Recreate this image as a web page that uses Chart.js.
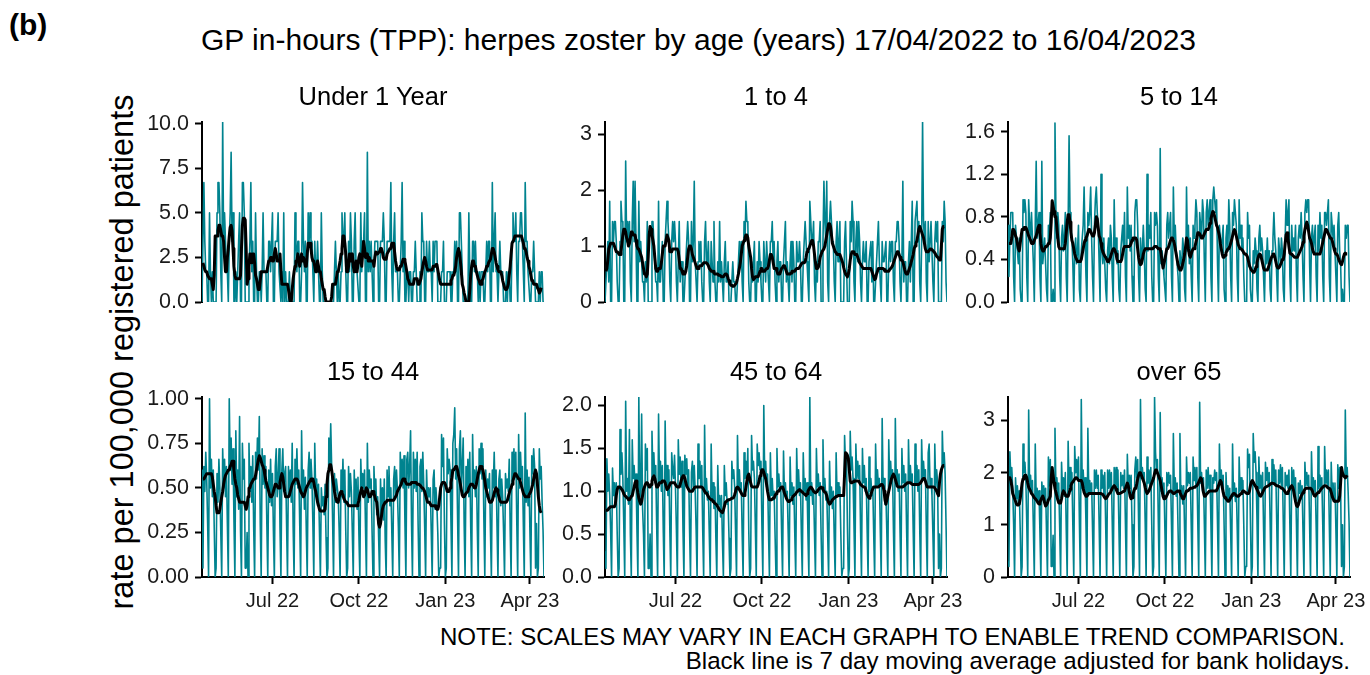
<!DOCTYPE html>
<html>
<head>
<meta charset="utf-8">
<title>GP in-hours (TPP): herpes zoster by age</title>
<script src="https://cdn.jsdelivr.net/npm/chart.js@4.4.1/dist/chart.umd.min.js"></script>
<style>
  html, body { margin: 0; padding: 0; background: #fff; }
  body { width: 1370px; height: 675px; position: relative; overflow: hidden;
         font-family: "Liberation Sans", Arial, sans-serif; color: #000; }
  .txt { position: absolute; line-height: 1; white-space: nowrap; }
  .strip { width: 342px; text-align: center; font-size: 25.5px; }
  canvas { position: absolute; }
</style>
</head>
<body>
<div class="txt" style="left:9px; top:10px; font-size:30px; font-weight:bold">(b)</div>
<div class="txt" style="left:0; width:1397px; top:25px; text-align:center; font-size:30px">GP in-hours (TPP): herpes zoster by age (years) 17/04/2022 to 16/04/2023</div>
<div class="txt" style="left:122px; top:352px; font-size:32.5px; transform:translate(-50%,-50%) rotate(-90deg)">rate per 100,000 registered patients</div>
<div class="txt" style="right:25px; top:625px; text-align:right; font-size:24.1px">NOTE: SCALES MAY VARY IN EACH GRAPH TO ENABLE TREND COMPARISON.</div>
<div class="txt" style="right:20px; top:649px; text-align:right; font-size:24.1px">Black line is 7 day moving average adjusted for bank holidays.</div>

<script>
// days since 17/04/2022 (a Sunday); 365 days to 16/04/2023
const dayCount = 365;
const monthTicks = [75, 167, 259, 349];
const monthLabels = ['Jul 22', 'Oct 22', 'Jan 23', 'Apr 23'];

const panelNames = ['Under 1 Year', '1 to 4', '5 to 14', '15 to 44', '45 to 64', 'over 65'];

// ---- Under 1 Year ----
const under1Daily = [
  0,0,6.7,3.4,1.7,1.7,0, 0,5,1.7,0,1.7,0,0,
  0,0,5,6.7,6.7,5,1.7, 0,10.1,3.4,5,3.4,1.7,1.7,
  0,3.4,5,8.4,3.4,5,0, 0,1.7,0,1.7,3.4,5,0,
  0,6.7,6.7,5,0,0,0, 0,1.7,3.4,6.7,1.7,3.4,0,
  0,5,1.7,0,0,1.7,1.7, 0,1.7,5,1.7,1.7,1.7,0,
  0,3.4,3.4,1.7,3.4,5,0, 0,3.4,3.4,3.4,5,1.7,1.7,
  0,1.7,0,5,0,1.7,0, 0,0,1.7,0,0,0,0,
  0,5,3.4,1.7,3.4,3.4,0, 0,1.7,6.7,3.4,1.7,3.4,0,
  0,5,3.4,5,3.4,3.4,1.7, 0,3.4,1.7,1.7,3.4,1.7,0,
  0,5,1.7,0,0,0,0, 0,0,0,0,0,0,0,
  0,1.7,3.4,1.7,0,1.7,0, 0,1.7,5,3.4,3.4,5,1.7,
  0,0,3.4,1.7,5,3.4,0, 0,3.4,5,1.7,1.7,1.7,0,
  0,5,1.7,3.4,3.4,5,0, 0,8.4,1.7,3.4,1.7,3.4,1.7,
  0,1.7,3.4,3.4,3.4,3.4,0, 0,3.4,3.4,3.4,5,3.4,0,
  0,3.4,3.4,3.4,3.4,6.7,1.7, 0,3.4,5,1.7,1.7,1.7,0,
  0,1.7,3.4,6.7,1.7,3.4,0, 0,1.7,1.7,0,1.7,1.7,0,
  0,1.7,1.7,3.4,1.7,0,0, 0,1.7,0,5,3.4,3.4,0,
  0,3.4,1.7,1.7,3.4,1.7,1.7, 0,3.4,1.7,3.4,3.4,3.4,0,
  0,0,0,1.7,1.7,3.4,0, 0,0,1.7,1.7,1.7,1.7,0,
  0,1.7,1.7,3.4,1.7,3.4,0, 0,5,5,3.4,1.7,0,0,
  0,0,0,0,5,1.7,0, 0,3.4,3.4,1.7,3.4,1.7,1.7,
  0,1.7,0,1.7,1.7,1.7,0, 0,1.7,3.4,1.7,3.4,3.4,0,
  0,6.7,1.7,3.4,5,1.7,1.7, 0,1.7,3.4,1.7,1.7,1.7,0,
  0,0,1.7,0,1.7,1.7,0, 0,3.4,5,3.4,3.4,5,1.7,
  0,3.4,3.4,5,5,3.4,1.7, 0,6.7,3.4,3.4,1.7,1.7,0,
  0,1.7,1.7,3.4,1.7,0,0, 0,0,1.7,0,1.7,1.7,0,
  0
];
const under1Avg = [
  null,2.2,2.0,1.8,1.7,1.7,1.5, 1.4,1.3,1.3,1.3,1.0,0.7,1.5,
  3.7,3.7,3.7,4.0,4.3,4.3,4.0, 3.7,3.7,3.4,2.5,1.7,1.7,2.5,
  3.0,3.7,4.2,4.3,4.0,3.0,2.0, 1.5,1.3,1.3,1.3,1.3,1.3,1.5,
  3.0,4.3,4.7,4.7,4.6,3.0,1.0, 1.3,2.0,2.7,2.7,2.2,2.7,2.7,
  2.2,1.5,1.3,1.0,0.7,0.7,1.2, 1.7,1.7,1.7,1.7,1.7,1.7,1.7,
  2.0,2.3,2.3,2.5,2.5,2.3,2.3, 2.7,3.0,2.7,2.3,2.3,2.3,2.7,
  1.7,1.0,1.0,1.0,1.0,1.0,1.0, 1.0,0.7,0.3,0,0,0.7,1.3,
  1.7,2.0,2.3,2.3,2.7,2.3,2.0, 2.3,2.7,2.3,2.5,2.3,2.0,2.0,
  2.7,3.3,3.3,3.3,3.0,2.5,2.3, 2.3,2.0,1.7,1.7,2.3,2.0,1.7,
  1.7,1.3,1.0,0.7,0.7,0.3,0, 0,0,0,0,0,0.3,1.0,
  1.0,1.0,1.0,1.3,1.7,1.7,2.0, 2.3,2.7,3.0,3.7,3.7,3.3,2.7,
  1.7,1.7,2.0,2.7,2.7,2.3,2.7, 2.0,1.7,1.7,2.3,1.7,1.7,2.5,
  2.7,2.3,2.0,2.7,3.4,3.0,2.5, 2.5,2.7,2.3,2.5,2.3,2.3,2.3,
  2.3,2.0,2.5,2.8,2.7,2.7,2.8, 2.8,3.0,3.0,2.8,2.5,2.4,2.4,
  2.4,2.7,2.8,2.8,3.0,3.0,3.3, 3.3,3.3,2.8,2.3,2.0,1.8,1.8,
  1.8,2.0,2.0,2.2,2.4,2.4,2.3, 2.0,1.7,1.3,1.2,1.0,1.0,1.0,
  1.0,1.0,1.3,1.3,1.3,1.3,1.0, 1.0,1.0,1.3,1.7,2.0,2.3,2.5,
  2.3,2.0,1.8,1.8,1.8,1.8,1.8, 1.8,2.0,2.0,2.0,2.1,2.1,1.8,
  1.5,1.2,1.0,1.0,1.0,1.0,1.0, 1.0,1.0,1.0,1.0,1.0,1.0,1.2,
  1.3,1.5,1.5,1.7,2.0,2.5,2.8, 3.0,2.8,2.3,1.7,1.0,0.8,0.5,
  0.3,0,0,0,0,0.7,1.5, 2.0,2.3,2.3,2.0,2.0,1.7,1.5,
  1.3,1.2,1.0,1.0,1.2,1.3,1.5, 1.7,1.8,2.0,2.0,2.2,2.3,2.4,
  2.7,3.0,3.0,2.8,2.5,2.2,2.0, 1.8,1.7,1.7,1.7,1.5,1.2,1.0,
  0.8,0.7,0.7,0.8,1.0,1.5,2.0, 2.7,3.3,3.3,3.5,3.7,3.7,3.7,
  3.7,3.7,3.7,3.7,3.7,3.5,3.3, 3.0,3.0,2.8,2.5,2.3,2.0,1.8,
  1.5,1.2,1.2,1.0,1.0,1.0,1.0, 0.8,0.7,0.5,0.6,0.8,null,null,
  null
];
const under1Ticks = [0, 2.5, 5, 7.5, 10];
const under1TickLabels = ['0.0', '2.5', '5.0', '7.5', '10.0'];

// ---- 1 to 4 ----
const oneToFourDaily = [
  0,0,.72,1.08,.36,1.8,0, 0,1.44,1.08,1.44,1.44,1.08,.36,
  0,0,1.08,1.8,1.44,1.44,0, 0,2.52,1.08,1.44,1.08,1.44,.36,
  0,1.44,2.16,1.08,2.16,1.08,0, 0,1.8,.72,1.08,.72,.36,.36,
  0,.72,.36,1.44,0,0,0, 0,1.44,1.44,1.08,.72,.36,.36,
  0,1.8,.36,.36,.72,1.08,0, 0,1.08,1.44,1.8,1.44,1.08,.36,
  0,1.08,1.44,1.08,1.44,1.08,.36, 0,.72,1.44,.36,.72,.72,0,
  0,.36,.72,1.08,1.44,1.08,0, 0,1.44,.72,1.08,2.16,.72,.36,
  0,.72,1.08,.72,1.08,.36,0, 0,1.08,1.44,.72,.72,1.08,.36,
  0,1.08,.72,.36,1.44,.36,0, 0,.72,.36,1.44,.36,.72,.36,
  0,.72,1.08,.36,.36,.72,0, 0,0,.36,.72,.36,.36,0,
  0,.36,.72,1.08,.72,1.08,.36, 0,1.44,1.08,1.8,1.44,1.44,.36,
  0,0,.72,.36,.72,1.08,0, 0,.72,.36,1.08,.72,.36,0,
  0,1.08,.72,.36,1.08,.72,.36, 0,1.08,1.08,1.44,.72,1.08,.36,
  0,.72,1.08,.36,.72,.72,0, 0,.72,1.08,1.44,.36,.72,.36,
  0,.72,1.08,.36,1.08,.72,0, 0,1.08,.72,.72,1.08,.72,0,
  0,.72,1.08,1.44,1.08,.72,.36, 0,1.8,1.44,1.08,1.08,1.44,.36,
  0,.72,.36,1.08,1.08,1.44,0, 0,1.08,2.16,1.44,1.08,2.16,.36,
  0,1.44,1.8,1.44,1.08,1.08,.36, 0,1.08,1.44,.72,1.08,1.44,0,
  0,0,0,1.08,1.44,.72,0, 0,0,1.44,1.08,1.8,1.44,.36,
  0,1.08,1.44,.72,1.44,1.08,.36, 0,.72,1.08,.72,.72,1.08,0,
  0,.72,.72,1.08,.36,1.08,0, 0,.36,.72,1.08,1.44,.72,.36,
  0,1.08,.72,.72,.72,1.08,0, 0,.72,1.08,.72,1.08,1.08,.36,
  0,1.08,1.08,1.44,1.44,1.08,.36, 0,.72,2.16,.36,.72,.72,0,
  0,.72,1.08,.36,1.08,1.8,0, 0,1.44,1.44,1.8,1.08,1.44,.36,
  0,1.08,3.24,1.44,1.08,1.44,.36, 0,1.44,.72,1.08,1.44,1.44,.36,
  0,1.08,1.44,1.08,1.44,0,0, 0,0,1.44,1.08,1.8,1.44,.36,
  0
];
const oneToFourAvg = [
  null,.55,.6,.75,.95,1.0,1.05, 1.05,1.05,1.05,1.0,.95,.9,.9,
  .88,.85,.85,.9,1.05,1.2,1.3, 1.3,1.25,1.15,1.1,1.0,1.05,1.15,
  1.25,1.25,1.2,1.2,1.2,1.1,1.0, .95,.95,.9,.85,.8,.7,.6,
  .5,.5,.45,.5,.8,1.2,1.35, 1.3,1.2,1.1,1.0,.8,.6,.55,
  .55,.6,.6,.6,.7,.85,1.0, 1.0,1.0,1.1,1.2,1.2,1.1,.9,
  .9,.9,.95,.95,.95,.95,.95, .95,.9,.75,.6,.6,.55,.5,
  .5,.5,.55,.65,.8,.95,1.0, 1.0,.95,.85,.8,.75,.7,.65,
  .6,.6,.62,.65,.65,.65,.68, .7,.7,.7,.7,.68,.65,.6,
  .58,.55,.55,.55,.52,.5,.5, .5,.5,.48,.48,.47,.45,.45,
  .45,.48,.5,.5,.48,.42,.38, .32,.3,.3,.28,.28,.3,.32,
  .35,.42,.5,.6,.7,.85,1.0, 1.05,1.1,1.15,1.2,1.2,1.15,1.0,
  .9,.8,.6,.45,.4,.42,.45, .45,.45,.45,.5,.55,.6,.6,
  .55,.55,.55,.58,.6,.6,.65, .75,.85,.85,.8,.7,.6,.6,
  .6,.55,.5,.5,.5,.55,.6, .62,.65,.65,.6,.55,.5,.5,
  .5,.5,.52,.55,.55,.55,.55, .58,.6,.6,.6,.62,.65,.68,
  .7,.7,.7,.72,.8,.9,.95, .95,1.0,1.05,1.1,1.1,1.0,.85,
  .7,.6,.6,.62,.7,.8,.85, .9,.9,.95,1.0,1.1,1.2,1.3,
  1.4,1.4,1.35,1.2,1.05,1.0,.95, .9,.88,.85,.85,.85,.85,.8,
  .75,.7,.62,.55,.5,.48,.45, .5,.6,.75,.85,.9,.9,.88,
  .85,.85,.85,.8,.75,.7,.68, .65,.62,.6,.6,.6,.6,.6,
  .6,.6,.6,.6,.55,.5,.45, .4,.42,.5,.55,.6,.6,.6,
  .6,.6,.6,.58,.55,.55,.55, .55,.55,.58,.6,.62,.65,.7,
  .75,.8,.85,.9,.9,.85,.8, .75,.75,.72,.65,.58,.52,.5,
  .5,.55,.6,.65,.72,.78,.85, .95,1.0,1.05,1.1,1.2,1.3,1.35,
  1.3,1.25,1.2,1.15,1.05,.95,.9, .9,.9,.92,.95,.95,.95,.92,
  .9,.88,.85,.82,.8,.78,.75, .75,1.0,1.3,1.35,1.35,null,null,
  null
];
const oneToFourTicks = [0, 1, 2, 3];
const oneToFourTickLabels = ['0', '1', '2', '3'];

// ---- 5 to 14 ----
const fiveToFourteenDaily = [
  .72,.24,.6,.84,.84,.84,.24, 0,.72,.6,.48,.36,.6,.12,
  0,0,.96,.84,.96,.84,.24, 0,.96,.72,.6,.84,.6,.36,
  0,.72,1.32,.6,.72,.84,.24, 0,1.32,.36,.48,.6,.36,.12,
  0,.72,.6,.84,0,0,.12, 0,1.68,.84,.6,.84,.72,.24,
  0,.6,.72,.48,.6,.84,.24, 0,.72,1.56,.84,.72,.6,.36,
  0,.48,.6,.36,.48,.72,.12, 0,.48,.6,.72,1.08,.6,.24,
  0,.84,.72,.84,1.08,.6,.24, 0,.72,.96,1.08,.84,.72,.36,
  0,1.2,.48,.36,.6,.36,.12, 0,.48,.6,.36,.72,.6,.24,
  0,.96,.48,.6,.36,.48,.12, 0,.48,.6,.72,.48,.84,.24,
  0,1.08,.6,.72,.48,.72,.24, 0,0,.84,.96,.96,.72,.24,
  0,.6,.36,.48,.72,.48,.12, 0,1.2,.48,.72,.6,.84,.24,
  0,0,.84,.72,.84,.72,.24, 0,1.44,.36,.48,.36,.24,.12,
  0,.72,.84,.6,.72,.84,.24, 0,1.08,.6,.72,.48,.36,.24,
  0,.48,.36,.36,.6,.48,.12, 0,1.08,.48,.72,.36,.6,.24,
  0,.72,.6,.72,.96,.84,.24, 0,.84,.72,.6,.96,.84,.36,
  0,.84,.96,.72,.84,.96,.24, 0,.96,1.08,.96,.84,.96,.36,
  0,.72,.6,.48,.6,.72,.12, 0,.6,.72,.48,.96,.72,.24,
  0,.84,.72,.96,.84,.72,.24, 0,.96,.6,.72,.48,.6,.24,
  0,0,0,.84,.6,.72,.12, 0,0,.48,.36,.6,.48,.12,
  0,.6,.72,.48,.6,.48,.24, 0,.48,.36,.6,.36,.48,.12,
  0,.48,.6,.84,.6,.48,.24, 0,.6,.48,.36,.6,.48,.12,
  0,.6,.96,.72,.84,.96,.24, 0,.72,.48,.6,.48,.72,.24,
  0,.6,.72,.6,.84,.6,.24, 0,.84,.96,.84,.96,.96,.36,
  0,.6,.72,.48,.6,.72,.24, 0,.72,.48,.84,.6,.72,.24,
  0,.84,.84,.72,.84,.96,.24, 0,.84,.72,.6,.72,.72,.24,
  0,.72,.84,.48,.36,0,.12, 0,0,.72,.6,.72,.72,.24,
  0
];
const fiveToFourteenAvg = [
  null,.55,.55,.55,.6,.68,.68, .66,.62,.6,.55,.5,.48,.55,
  .62,.68,.68,.7,.7,.7,.68, .65,.62,.6,.58,.55,.55,.55,
  .58,.6,.62,.66,.7,.72,.65, .55,.5,.48,.48,.5,.52,.52,
  .53,.55,.55,.6,.75,.95,.9, .85,.8,.8,.7,.6,.52,.5,
  .5,.5,.5,.5,.5,.55,.65, .75,.82,.82,.75,.65,.58,.55,
  .5,.45,.42,.4,.38,.38,.38, .38,.4,.45,.5,.55,.58,.6,
  .62,.65,.68,.68,.66,.64,.62, .62,.65,.72,.8,.78,.7,.62,
  .6,.55,.5,.47,.45,.43,.42, .4,.38,.38,.4,.42,.45,.48,
  .5,.5,.48,.45,.4,.38,.38, .38,.38,.4,.45,.5,.52,.52,
  .52,.52,.52,.52,.53,.55,.58, .6,.6,.6,.6,.58,.5,.42,
  .37,.35,.36,.4,.45,.48,.5, .5,.5,.5,.5,.5,.5,.5,
  .5,.51,.52,.52,.52,.51,.5, .5,.5,.45,.38,.32,.32,.4,
  .45,.5,.5,.52,.55,.58,.6, .6,.58,.55,.5,.45,.4,.35,
  .32,.3,.3,.32,.36,.4,.45, .52,.6,.58,.5,.44,.42,.45,
  .48,.5,.5,.52,.56,.6,.65, .65,.64,.62,.6,.6,.62,.64,
  .66,.68,.68,.68,.7,.74,.78, .82,.85,.84,.8,.76,.72,.7,
  .66,.62,.55,.5,.45,.42,.42, .44,.46,.48,.5,.5,.52,.55,
  .58,.62,.66,.68,.66,.62,.58, .54,.52,.5,.5,.5,.48,.46,
  .45,.45,.44,.42,.38,.34,.32, .3,.29,.28,.28,.3,.33,.37,
  .41,.44,.45,.44,.4,.36,.32, .3,.3,.3,.3,.32,.35,.38,
  .41,.43,.45,.45,.42,.38,.34, .32,.32,.33,.35,.37,.4,.4,
  .45,.55,.63,.65,.6,.52,.46, .45,.45,.44,.43,.42,.42,.42,
  .42,.44,.46,.48,.5,.52,.56, .62,.68,.72,.75,.72,.66,.6,
  .58,.55,.5,.47,.45,.45,.45, .45,.45,.45,.45,.48,.52,.56,
  .6,.64,.68,.68,.66,.64,.62, .6,.6,.58,.54,.5,.47,.45,
  .45,.43,.4,.38,.36,.35,.38, .42,.45,.46,.45,.45,null,null,
  null
];
const fiveToFourteenTicks = [0, 0.4, 0.8, 1.2, 1.6];
const fiveToFourteenTickLabels = ['0.0', '0.4', '0.8', '1.2', '1.6'];

// ---- 15 to 44 ----
const fifteenToFortyFourDaily = [
  .6,.05,.62,.48,.7,.55,.3, 0,1.0,.5,.66,.45,.6,.28,
  0,.05,.58,.42,.66,.5,.25, 0,.72,.5,.66,.45,.62,.3,
  0,1.0,.6,.78,.52,.72,.32, 0,.82,.45,.6,.38,.9,.26,
  0,.75,.55,.66,.05,.05,.25, 0,.75,.48,.62,.42,.68,.28,
  0,.7,.55,.78,.6,.9,.3, 0,.72,.52,.68,.5,.62,.3,
  0,.6,.42,.66,.4,.58,.26, 0,.62,.72,.45,.55,.72,.28,
  0,.6,.72,.48,.58,.62,.3, 0,.62,.45,.6,.42,.75,.28,
  0,.66,.52,.72,.5,.6,.3, 0,.82,.45,.6,.38,.56,.26,
  0,.6,.7,.5,.66,.55,.3, 0,.75,.48,.55,.4,.52,.26,
  0,.5,.4,.45,.35,.52,.22, 0,.05,.78,.6,.86,.62,.32,
  0,.58,.42,.55,.5,.45,.26, 0,.6,.45,.66,.42,.6,.26,
  0,.05,.62,.45,.58,.48,.25, 0,.6,.4,.55,.38,.56,.24,
  0,.66,.48,.58,.5,.6,.28, 0,.75,.42,.6,.5,.55,.26,
  0,.62,.45,.55,.35,.45,.22, 0,.55,.35,.5,.32,.55,.2,
  0,.6,.45,.62,.4,.5,.26, 0,.55,.62,.45,.6,.48,.28,
  0,.7,.52,.66,.5,.68,.3, 0,.66,.7,.5,.62,.82,.3,
  0,.7,.5,.66,.48,.7,.3, 0,.62,.66,.48,.7,.52,.28,
  0,.6,.42,.5,.45,.5,.25, 0,.55,.6,.38,.5,.4,.24,
  0,.05,.05,.8,.62,.78,.3, 0,.05,.72,.58,.66,.6,.3,
  0,.75,.8,.95,.55,.72,.34, 0,.72,.82,.5,.62,.78,.3,
  0,.62,.48,.66,.45,.7,.28, 0,.8,.5,.6,.45,.62,.28,
  0,.72,.58,.75,.55,.72,.32, 0,.6,.45,.55,.5,.58,.26,
  0,.6,.5,.7,.45,.6,.28, 0,.55,.6,.4,.55,.45,.25,
  0,.58,.5,.55,.48,.66,.27, 0,.7,.55,.72,.56,.7,.32,
  0,.8,.5,.7,.55,.62,.3, 0,.92,.42,.6,.4,.56,.26,
  0,.68,.58,.72,.62,.05,.3, 0,.05,.72,.55,.62,.42,.26,
  0
];
const fifteenToFortyFourAvg = [
  null,.55,.55,.56,.57,.58,.58, .58,.58,.58,.58,.56,.52,.48,
  .45,.4,.36,.36,.36,.38,.42, .45,.48,.52,.55,.57,.58,.59,
  .6,.6,.62,.63,.65,.65,.6, .55,.52,.5,.46,.44,.42,.42,
  .42,.42,.42,.42,.4,.38,.4, .45,.5,.5,.52,.53,.54,.55,
  .55,.57,.6,.63,.66,.68,.67, .65,.63,.62,.6,.57,.54,.52,
  .5,.48,.46,.45,.45,.46,.48, .5,.52,.52,.51,.5,.5,.53,
  .56,.58,.56,.52,.48,.45,.45, .45,.45,.46,.48,.5,.52,.53,
  .54,.55,.55,.55,.54,.52,.5, .48,.47,.46,.45,.46,.48,.5,
  .51,.52,.53,.54,.55,.55,.55, .53,.5,.48,.45,.42,.4,.38,
  .37,.37,.37,.37,.37,.38,.45, .52,.58,.6,.63,.63,.6,.56,
  .52,.48,.45,.43,.42,.42,.45, .47,.48,.47,.46,.44,.43,.42,
  .42,.41,.4,.4,.4,.4,.4, .4,.4,.4,.4,.4,.41,.43,
  .46,.48,.5,.48,.45,.46,.48, .5,.49,.47,.45,.45,.46,.48,
  .48,.47,.45,.43,.42,.36,.3, .28,.3,.34,.38,.4,.41,.42,
  .42,.43,.43,.43,.43,.43,.43, .43,.43,.44,.45,.46,.48,.49,
  .5,.51,.52,.54,.55,.55,.54, .53,.52,.52,.52,.52,.52,.53,
  .53,.53,.53,.53,.53,.52,.52, .52,.52,.51,.5,.5,.49,.48,
  .46,.44,.42,.42,.42,.41,.4, .4,.4,.4,.4,.39,.38,.38,
  .4,.45,.5,.52,.53,.53,.53, .52,.5,.48,.48,.48,.5,.53,
  .56,.6,.6,.61,.62,.62,.6, .57,.55,.52,.49,.46,.45,.45,
  .46,.47,.47,.48,.5,.51,.52, .52,.52,.51,.5,.5,.52,.55,
  .58,.6,.62,.62,.61,.6,.57, .54,.5,.48,.46,.44,.42,.42,
  .42,.43,.45,.47,.49,.5,.49, .47,.45,.43,.42,.42,.42,.42,
  .42,.42,.42,.43,.45,.47,.49, .5,.52,.54,.56,.58,.58,.57,
  .56,.55,.55,.53,.51,.49,.47, .46,.45,.45,.45,.45,.46,.47,
  .48,.5,.52,.55,.58,.6,.58, .52,.45,.4,.37,.36,null,null,
  null
];
const fifteenToFortyFourTicks = [0, 0.25, 0.5, 0.75, 1];
const fifteenToFortyFourTickLabels = ['0.00', '0.25', '0.50', '0.75', '1.00'];

// ---- 45 to 64 ----
const fortyFiveToSixtyFourDaily = [
  .3,.1,1.38,1.0,1.2,.95,.55, 0,1.27,.95,1.1,.85,1.1,.5,
  0,.1,1.72,1.2,1.45,1.15,.6, 0,2.05,1.0,1.15,.85,1.72,.5,
  0,1.6,1.15,1.3,1.05,1.2,.55, 0,2.1,.9,1.0,1.9,.8,.5,
  0,1.55,1.25,1.5,.1,.1,.5, 0,1.7,1.2,1.45,1.1,1.3,.6,
  0,1.9,1.1,1.35,1.0,1.3,.55, 0,1.82,1.1,1.3,.95,1.25,.55,
  0,1.45,1.25,1.15,1.42,1.05,.55, 0,1.6,1.2,1.4,1.05,1.35,.55,
  0,1.42,1.2,1.38,1.05,1.25,.55, 0,1.22,1.35,1.05,1.3,1.0,.55,
  0,1.55,1.15,1.35,1.05,1.3,.55, 0,1.77,1.0,1.15,.9,1.0,.5,
  0,1.55,.9,1.1,.8,1.05,.45, 0,1.3,.85,.95,.7,.95,.42,
  0,1.3,.95,1.1,.85,.9,.45, 0,.1,1.35,1.15,1.25,1.05,.5,
  0,1.65,1.05,1.25,1.0,1.1,.5, 0,1.45,1.15,1.35,1.1,1.5,.55,
  0,.1,1.65,1.25,1.35,1.15,.6, 0,1.55,1.3,1.45,1.25,1.35,.6,
  0,2.0,1.15,1.35,1.05,1.2,.55, 0,1.45,.95,1.15,.9,1.0,.5,
  0,1.5,1.05,1.2,1.0,1.1,.5, 0,1.47,.95,1.1,.9,1.0,.5,
  0,1.4,.95,1.1,.85,1.05,.5, 0,1.5,1.0,1.25,.95,1.1,.5,
  0,1.45,1.0,1.15,.9,1.1,.5, 0,2.1,.95,1.1,.85,1.0,.5,
  0,1.5,1.05,1.2,.95,1.1,.5, 0,1.6,1.0,1.15,.9,1.0,.5,
  0,1.35,.9,1.05,.8,1.0,.45, 0,1.45,.95,1.1,.95,1.05,.5,
  0,.1,.1,1.65,1.3,1.45,.6, 0,.1,1.7,1.25,1.4,1.15,.6,
  0,1.55,1.15,1.35,1.15,1.3,.55, 0,1.5,1.1,1.3,1.0,1.15,.55,
  0,1.4,1.0,1.15,.95,1.05,.5, 0,1.55,1.05,1.25,1.05,1.15,.55,
  0,1.85,1.05,1.15,.85,.95,.5, 0,1.6,1.1,1.35,1.1,1.25,.55,
  0,1.85,1.1,1.25,1.0,1.2,.55, 0,1.5,1.1,1.3,1.0,1.2,.55,
  0,1.6,1.1,1.3,1.1,1.2,.55, 0,1.55,1.1,1.3,1.0,1.25,.55,
  0,1.6,1.15,1.35,1.15,1.25,.55, 0,1.45,1.55,1.05,1.15,.95,.5,
  0,1.55,1.05,1.25,1.1,.1,.5, 0,.1,1.7,1.3,1.45,1.2,.6,
  0
];
const fortyFiveToSixtyFourAvg = [
  null,.78,.78,.78,.8,.81,.82, .82,.82,.82,.82,.85,.95,1.02,
  1.05,1.05,1.05,1.05,1.02,1.0,.97, .95,.94,.93,.92,.9,.9,.92,
  .94,.95,1.0,1.05,1.1,1.12,1.05, .98,.92,.88,.85,.88,.95,1.02,
  1.05,1.08,1.1,1.1,1.08,1.05,1.05, 1.08,1.12,1.16,1.18,1.15,1.1,1.05,
  1.05,1.07,1.1,1.1,1.1,1.12,1.12, 1.12,1.1,1.06,1.02,1.02,1.05,1.08,
  1.1,1.1,1.1,1.1,1.1,1.08,1.06, 1.05,1.05,1.05,1.08,1.12,1.16,1.18,
  1.18,1.15,1.1,1.06,1.04,1.02,1.0, 1.0,1.0,1.0,1.02,1.04,1.05,1.05,
  1.05,1.05,1.05,1.05,1.05,1.05,1.04, 1.02,1.0,.98,.98,.96,.94,.92,
  .91,.9,.9,.88,.87,.86,.85, .84,.82,.8,.78,.77,.76,.75,
  .78,.82,.87,.88,.89,.9,.9, .9,.91,.92,.92,.93,.96,1.0,
  1.04,1.05,1.04,1.02,1.0,.98,.96, .95,.95,.98,1.05,1.12,1.18,1.2,
  1.15,1.1,1.06,1.05,1.05,1.05,1.05, 1.05,1.05,1.08,1.12,1.18,1.22,1.25,
  1.25,1.22,1.18,1.15,1.08,1.0,.94, .9,.9,.9,.91,.92,.92,.95,
  .97,.99,1.0,1.0,1.02,1.04,1.05, 1.05,1.02,.98,.95,.92,.9,.88,
  .88,.89,.9,.92,.94,.95,.96, .97,.99,1.0,1.01,1.02,1.01,1.0,
  .99,.98,.97,.96,.95,.97,1.0, 1.02,1.04,1.05,1.04,1.02,1.0,.99,
  .98,.99,1.0,1.02,1.03,1.04,1.05, 1.04,1.02,1.0,.99,.98,.95,.9,
  .87,.85,.86,.88,.9,.91,.92, .93,.94,.94,.95,.95,.95,.95,
  .95,.95,.95,1.2,1.45,1.44,1.42, 1.38,1.25,1.12,1.1,1.1,1.11,1.12,
  1.12,1.12,1.12,1.12,1.12,1.1,1.08, 1.07,1.06,1.05,1.05,1.04,1.0,.96,
  .94,.92,.93,.96,1.0,1.03,1.05, 1.05,1.05,1.05,1.05,1.05,1.06,1.07,
  1.08,1.08,1.06,1.0,.9,.85,.9, .95,1.0,1.05,1.1,1.15,1.18,1.2,
  1.18,1.14,1.1,1.06,1.05,1.05,1.05, 1.05,1.05,1.05,1.06,1.07,1.08,1.09,
  1.1,1.1,1.1,1.1,1.09,1.08,1.08, 1.08,1.08,1.08,1.08,1.08,1.08,1.09,
  1.1,1.12,1.14,1.15,1.15,1.12,1.08, 1.05,1.05,1.05,1.05,1.05,1.05,1.05,
  1.05,1.04,1.02,1.0,.97,.95,1.1, 1.2,1.25,1.28,1.3,1.3,null,null,
  null
];
const fortyFiveToSixtyFourTicks = [0, 0.5, 1, 1.5, 2];
const fortyFiveToSixtyFourTickLabels = ['0.0', '0.5', '1.0', '1.5', '2.0'];

// ---- over 65 ----
const overSixtyFiveDaily = [
  .3,.2,2.4,1.9,2.1,1.7,1.0, 0,1.9,1.5,1.75,1.4,1.65,.9,
  0,.2,2.55,2.0,2.2,1.85,1.0, 0,3.2,1.7,1.95,1.6,1.85,.95,
  0,2.55,1.5,1.7,1.45,1.65,.85, 0,1.82,1.55,1.75,1.5,1.7,.85,
  0,2.3,1.75,2.25,.2,.2,.8, 0,2.85,1.7,1.9,1.55,1.8,.95,
  0,2.2,1.65,1.9,1.55,2.0,.9, 0,2.6,1.7,2.1,1.65,2.0,1.0,
  0,2.5,2.0,2.25,1.9,2.3,1.05, 0,3.4,1.7,2.05,1.65,1.9,1.0,
  0,2.85,1.6,1.85,1.6,1.8,.9, 0,2.05,1.7,2.05,1.7,1.95,1.0,
  0,2.05,1.7,1.95,1.6,2.0,.95, 0,2.05,1.7,2.05,1.65,2.0,1.0,
  0,2.1,1.75,2.1,1.7,2.05,1.0, 0,2.0,1.75,1.95,1.7,2.05,1.0,
  0,2.35,1.7,1.95,1.7,1.95,1.0, 0,.2,2.05,2.3,1.9,2.25,1.05,
  0,3.4,1.9,2.1,1.85,2.0,1.05, 0,2.3,1.8,2.05,1.7,2.1,1.0,
  0,.2,3.45,2.4,2.0,2.25,1.05, 0,3.15,1.65,1.9,1.55,1.8,.9,
  0,2.0,1.75,2.0,1.8,1.95,1.0, 0,2.75,1.65,1.9,1.55,1.8,.9,
  0,2.75,1.5,1.75,1.4,1.75,.85, 0,2.3,1.75,2.0,1.8,2.0,1.0,
  0,2.3,1.85,2.1,1.75,2.1,1.05, 0,3.35,1.8,2.0,1.65,1.9,1.0,
  0,2.05,1.7,2.1,1.7,1.95,1.0, 0,1.9,1.8,2.05,1.85,2.0,1.0,
  0,2.55,1.8,2.05,1.7,1.95,1.0, 0,2.0,1.5,1.75,1.5,1.7,.85,
  0,2.55,1.55,1.8,1.45,1.7,.9, 0,2.3,1.65,1.9,1.65,1.85,.95,
  0,.2,.2,2.45,2.1,2.35,1.1, 0,.2,2.75,2.2,2.4,2.0,1.1,
  0,2.3,1.7,1.95,1.6,2.0,.95, 0,2.2,1.85,2.1,1.75,2.0,1.05,
  0,2.25,1.8,2.15,1.8,2.05,1.05, 0,2.05,1.8,2.15,1.75,2.1,1.05,
  0,2.0,1.75,1.95,1.7,2.05,1.0, 0,2.1,1.7,2.05,1.65,1.9,1.0,
  0,1.8,1.6,1.85,1.5,1.75,.85, 0,2.2,1.75,2.0,1.75,1.95,1.0,
  0,2.4,1.65,1.9,1.65,1.85,.95, 0,2.5,1.7,1.95,1.7,1.9,1.0,
  0,2.5,1.8,2.05,1.7,2.05,1.0, 0,2.2,1.55,1.8,1.45,1.8,.9,
  0,2.15,1.7,2.1,1.75,.2,1.0, 0,.2,3.2,1.9,2.1,1.65,1.05,
  0
];
const overSixtyFiveAvg = [
  null,1.9,1.9,1.85,1.75,1.6,1.55, 1.5,1.45,1.4,1.38,1.38,1.4,1.5,
  1.65,1.8,1.88,1.92,1.95,1.95,1.9, 1.8,1.72,1.68,1.65,1.6,1.58,1.55,
  1.52,1.5,1.48,1.45,1.42,1.4,1.42, 1.48,1.52,1.55,1.5,1.42,1.36,1.38,
  1.42,1.48,1.5,1.55,1.9,2.1,1.95, 1.8,1.7,1.62,1.55,1.48,1.42,1.42,
  1.42,1.5,1.6,1.65,1.62,1.58,1.55, 1.55,1.55,1.6,1.68,1.75,1.8,1.82,
  1.85,1.88,1.9,1.9,1.88,1.85,1.85, 1.85,1.85,1.8,1.7,1.62,1.58,1.55,
  1.55,1.57,1.6,1.6,1.6,1.6,1.6, 1.6,1.6,1.6,1.6,1.6,1.6,1.6,
  1.6,1.6,1.6,1.58,1.55,1.52,1.5, 1.52,1.55,1.58,1.6,1.62,1.66,1.7,
  1.73,1.75,1.73,1.68,1.64,1.6,1.6, 1.6,1.61,1.62,1.63,1.64,1.65,1.7,
  1.75,1.8,1.75,1.65,1.55,1.5,1.52, 1.58,1.65,1.7,1.7,1.78,1.88,1.95,
  2.0,2.0,1.95,1.9,1.85,1.8,1.72, 1.65,1.6,1.6,1.65,1.7,1.75,1.8,
  1.85,1.9,1.98,2.05,2.05,2.0,1.95, 1.9,1.85,1.75,1.65,1.55,1.5,1.5,
  1.52,1.56,1.6,1.63,1.65,1.65,1.64, 1.62,1.6,1.6,1.62,1.63,1.64,1.65,
  1.65,1.62,1.58,1.54,1.5,1.5,1.55, 1.6,1.65,1.65,1.66,1.68,1.7,1.7,
  1.7,1.71,1.72,1.73,1.74,1.75,1.78, 1.82,1.86,1.9,1.88,1.75,1.62,1.55,
  1.55,1.58,1.6,1.62,1.64,1.65,1.65, 1.65,1.65,1.65,1.65,1.65,1.66,1.7,
  1.75,1.8,1.85,1.82,1.72,1.62,1.55, 1.52,1.5,1.48,1.45,1.45,1.48,1.52,
  1.55,1.58,1.6,1.6,1.58,1.56,1.55, 1.55,1.56,1.58,1.6,1.62,1.65,1.65,
  1.63,1.62,1.6,1.6,1.6,1.65,1.75, 1.82,1.85,1.82,1.78,1.75,1.72,1.68,
  1.64,1.6,1.56,1.55,1.58,1.62,1.66, 1.7,1.72,1.73,1.74,1.75,1.76,1.78,
  1.79,1.8,1.8,1.79,1.78,1.76,1.75, 1.75,1.74,1.73,1.72,1.7,1.7,1.68,
  1.66,1.63,1.6,1.6,1.62,1.66,1.7, 1.73,1.75,1.72,1.65,1.55,1.45,1.37,
  1.35,1.38,1.45,1.5,1.55,1.58,1.62, 1.65,1.68,1.7,1.7,1.7,1.7,1.7,
  1.7,1.68,1.65,1.6,1.56,1.55,1.58, 1.6,1.62,1.63,1.65,1.68,1.7,1.72,
  1.74,1.75,1.75,1.74,1.72,1.7,1.7, 1.68,1.62,1.55,1.5,1.46,1.45,1.45,
  1.45,1.45,1.46,1.55,1.8,2.1,2.0, 1.95,1.92,1.9,1.92,1.95,null,null,
  null
];
const overSixtyFiveTicks = [0, 1, 2, 3];
const overSixtyFiveTickLabels = ['0', '1', '2', '3'];

// upper limit of each panel's y axis
const yMaxes = [10.1, 3.22, 1.69, 1.01, 2.1, 3.45];

const panelDaily = [under1Daily, oneToFourDaily, fiveToFourteenDaily,
  fifteenToFortyFourDaily, fortyFiveToSixtyFourDaily, overSixtyFiveDaily];
const panelAvg = [under1Avg, oneToFourAvg, fiveToFourteenAvg,
  fifteenToFortyFourAvg, fortyFiveToSixtyFourAvg, overSixtyFiveAvg];
const panelTicks = [under1Ticks, oneToFourTicks, fiveToFourteenTicks,
  fifteenToFortyFourTicks, fortyFiveToSixtyFourTicks, overSixtyFiveTicks];
const panelTickLabels = [under1TickLabels, oneToFourTickLabels, fiveToFourteenTickLabels,
  fifteenToFortyFourTickLabels, fortyFiveToSixtyFourTickLabels, overSixtyFiveTickLabels];

// layout of the 3 x 2 grid of panels (plot area corners)
const PLOT_W = 342, PLOT_H = 180;
const plotLefts = [202, 605, 1008];
const plotTops = [122, 397];
const stripBaselines = [105.5, 381];
// padding must exceed half a y tick label plus its padding, or Chart.js shrinks the plot
const AXIS_W = 80, PAD_T = 22, PAD_B = 22, PAD_R = 24, XAXIS_H = 44;
const FONT = '"Liberation Sans", Arial, sans-serif';
const TEAL = '#00838f';
const INK = '#1a1a1a';

Chart.defaults.font.family = FONT;

const axisLines = (len) => ({
  display: true, drawOnChartArea: false, drawTicks: true,
  tickLength: len, tickWidth: 2, tickColor: '#000'
});

function drawPanel(i) {
  const col = i % 3, row = Math.floor(i / 3);
  const withDates = row === 1;
  const w = AXIS_W + PLOT_W + PAD_R;
  const h = PAD_T + PLOT_H + (withDates ? XAXIS_H : PAD_B);

  const canvas = document.createElement('canvas');
  canvas.width = w;
  canvas.height = h;
  canvas.style.left = (plotLefts[col] - AXIS_W) + 'px';
  canvas.style.top = (plotTops[row] - PAD_T) + 'px';
  canvas.style.width = w + 'px';
  canvas.style.height = h + 'px';
  document.body.appendChild(canvas);

  const strip = document.createElement('div');
  strip.className = 'txt strip';
  strip.textContent = panelNames[i];
  strip.style.left = plotLefts[col] + 'px';
  strip.style.top = (stripBaselines[row] - 0.8465 * 25.5) + 'px';
  document.body.appendChild(strip);

  const points = arr => arr.map((v, d) => ({ x: d, y: v }));
  const yTicks = panelTicks[i];
  const yLabels = panelTickLabels[i];

  new Chart(canvas, {
    type: 'line',
    data: {
      datasets: [
        { label: '7 day average', data: points(panelAvg[i]), borderColor: '#000', borderWidth: 3, order: 0 },
        { label: 'daily rate', data: points(panelDaily[i]), borderColor: TEAL, borderWidth: 1.6, order: 1 }
      ]
    },
    options: {
      responsive: false,
      animation: false,
      events: [],
      parsing: false,
      normalized: true,
      layout: { padding: { top: PAD_T, right: PAD_R, bottom: withDates ? 0 : PAD_B, left: 0 } },
      elements: {
        point: { radius: 0 },
        line: { tension: 0, borderJoinStyle: 'round', fill: false }
      },
      plugins: { legend: { display: false }, tooltip: { enabled: false } },
      scales: {
        x: {
          type: 'linear',
          min: 0,
          max: dayCount - 1,
          display: withDates,
          afterBuildTicks: s => { s.ticks = monthTicks.map(v => ({ value: v })); },
          afterFit: s => { s.height = withDates ? XAXIS_H : 0; },
          ticks: {
            autoSkip: false, maxRotation: 0, padding: 5, color: INK,
            font: { family: FONT, size: 20 },
            callback: (v, k) => monthLabels[k]
          },
          grid: axisLines(7),
          border: { display: true, color: '#000', width: 2 }
        },
        y: {
          type: 'linear',
          min: 0,
          max: yMaxes[i],
          afterBuildTicks: s => { s.ticks = yTicks.map(v => ({ value: v })); },
          afterFit: s => { s.width = AXIS_W; },
          ticks: {
            padding: 6, color: INK,
            font: { family: FONT, size: 21.5 },
            callback: (v, k) => yLabels[k]
          },
          grid: axisLines(7),
          border: { display: true, color: '#000', width: 2 }
        }
      }
    }
  });
}

for (let i = 0; i < panelNames.length; i++) drawPanel(i);
</script>
</body>
</html>
